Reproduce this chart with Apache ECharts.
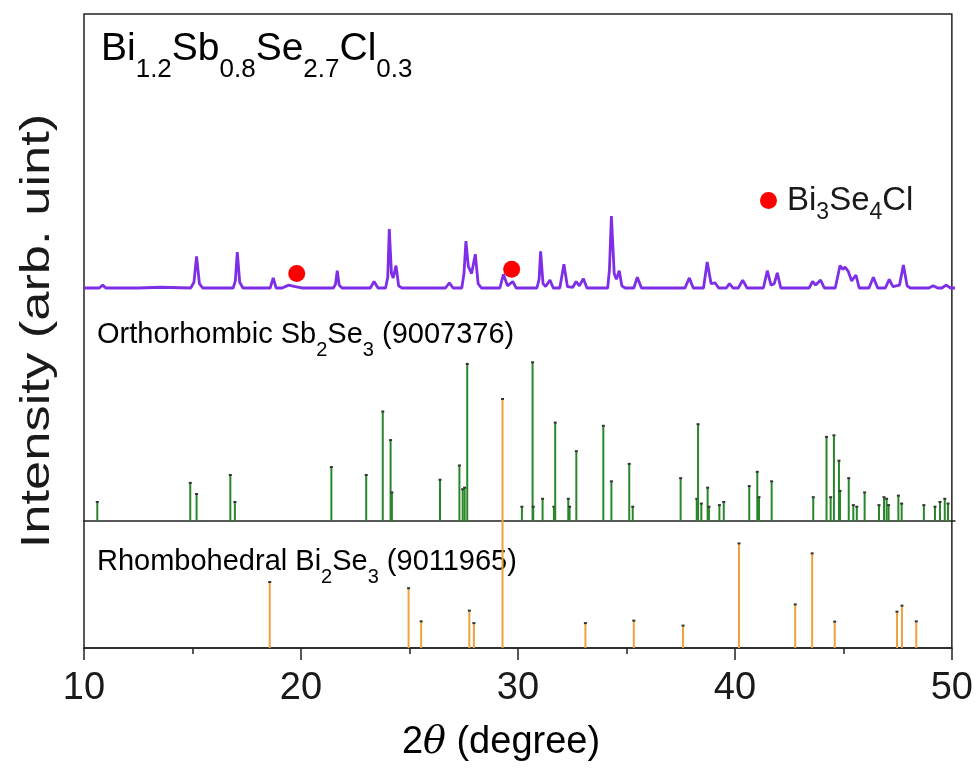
<!DOCTYPE html>
<html>
<head>
<meta charset="utf-8">
<script src="https://cdn.jsdelivr.net/npm/echarts@6/dist/echarts.min.js"></script>
<style>
  html, body { margin: 0; padding: 0; background: #fff; }
  #chart { width: 976px; height: 769px; }
</style>
</head>
<body>
<div id="chart"></div>
<script>
// measured XRD pattern of Bi1.2Sb0.8Se2.7Cl0.3, [2theta, relative intensity]
const xrdPattern = [
  [10.0, 0], [10.7, 0], [10.86, 4], [11.0, 0], [12.5, 0], [13.5, 1], [14.9, 0],
  [15.05, 8], [15.17, 44], [15.3, 6], [15.45, 0], [16.85, 0], [16.95, 10], [17.04, 50],
  [17.15, 8], [17.3, 0], [18.55, 0], [18.69, 14], [18.82, 0], [19.1, 0], [19.4, 4],
  [19.7, 2], [20.0, 0], [21.45, 0], [21.55, 5], [21.63, 24], [21.72, 4], [21.85, 0],
  [23.15, 0], [23.32, 9], [23.5, 0], [23.85, 0], [23.95, 15], [24.02, 82], [24.12, 20],
  [24.2, 14], [24.33, 31], [24.45, 3], [24.6, 0], [26.6, 0], [26.78, 7], [26.95, 0],
  [27.35, 0], [27.45, 20], [27.54, 65], [27.65, 30], [27.8, 20], [27.97, 47], [28.1, 6],
  [28.25, 0], [29.1, 0], [29.26, 19], [29.45, 3], [29.69, 9], [29.85, 0], [30.8, 0],
  [30.9, 12], [30.97, 51], [31.08, 6], [31.2, 2], [31.4, 11], [31.55, 0], [31.85, 0],
  [32.04, 33], [32.2, 2], [32.45, 1], [32.6, 9], [32.75, 3], [32.93, 13], [33.1, 0],
  [34.05, 0], [34.13, 25], [34.22, 100], [34.35, 20], [34.45, 12], [34.58, 24], [34.7, 3],
  [34.85, 0], [35.25, 0], [35.41, 15], [35.6, 0], [37.6, 0], [37.8, 14], [37.98, 0],
  [38.45, 0], [38.62, 36], [38.8, 6], [38.98, 7], [39.15, 0], [39.5, 0], [39.64, 6],
  [39.8, 0], [40.05, 0], [40.25, 11], [40.45, 0], [41.2, 0], [41.38, 24], [41.55, 4],
  [41.7, 6], [41.84, 21], [42.0, 0], [43.3, 0], [43.46, 9], [43.6, 4], [43.83, 11],
  [44.0, 0], [44.5, 0], [44.72, 31], [44.85, 26], [44.95, 29], [45.1, 23], [45.25, 10],
  [45.45, 18], [45.6, 0], [46.05, 0], [46.25, 15], [46.45, 0], [46.8, 0], [46.98, 12],
  [47.15, 2], [47.45, 4], [47.63, 32], [47.8, 3], [47.95, 0], [48.8, 0], [49.0, 3],
  [49.2, 0], [49.4, 0], [49.59, 4], [49.8, 0], [50.0, 0]
];

// Bi3Se4Cl impurity peaks marked with red dots
const bi3se4clMarks = [[19.77, 20], [29.64, 26]];

// reference card: orthorhombic Sb2Se3 (9007376)
const sb2se3Peaks = [
  [10.61, 12], [14.88, 24], [15.17, 17], [16.72, 29], [16.93, 12], [21.36, 34], [22.96, 29],
  [23.72, 69], [24.08, 51], [24.14, 18], [26.35, 26], [27.24, 35], [27.39, 20], [27.48, 21],
  [27.6, 99], [30.11, 9], [30.6, 100], [30.63, 9], [31.06, 14], [31.58, 9], [31.64, 62],
  [32.24, 14], [32.3, 9], [32.61, 44], [33.85, 60], [34.22, 25], [35.04, 36], [35.2, 9],
  [37.4, 27], [38.14, 14], [38.2, 61], [38.35, 11], [38.64, 21], [38.7, 9], [39.18, 10],
  [39.38, 12], [40.55, 22], [40.92, 31], [41.0, 15], [41.58, 25], [43.49, 15], [44.1, 53],
  [44.29, 15], [44.44, 54], [44.67, 38], [44.72, 19], [45.12, 27], [45.33, 10], [45.49, 9],
  [45.85, 18], [46.51, 10], [46.74, 15], [46.86, 14], [46.95, 10], [47.4, 16], [47.55, 11],
  [48.57, 10], [49.08, 9], [49.31, 12], [49.53, 14], [49.68, 11]
];

// reference card: rhombohedral Bi2Se3 (9011965)
const bi2se3Peaks = [
  [18.56, 26.5], [24.96, 24], [25.54, 10.7], [27.76, 15], [27.97, 10], [29.29, 100],
  [33.11, 10], [35.34, 11], [37.61, 9], [40.19, 42], [42.78, 17.5], [43.56, 38],
  [44.6, 10.6], [47.47, 14.6], [47.7, 17], [48.36, 10.7]
];

const xTicks = [10, 20, 30, 40, 50];

const FONT = 'Arial, "Liberation Sans", sans-serif';
const INK = '#1a1a1a';

// rich text styles for chemical formulas with subscripts
function formulaRich(main, sub, drop) {
  return {
    m: { fontSize: main, lineHeight: main, verticalAlign: 'top', fontFamily: FONT, color: INK },
    s: { fontSize: sub, lineHeight: sub, verticalAlign: 'top', padding: [drop, 0, 0, 0], fontFamily: FONT, color: INK }
  };
}

// vertical stick for a reference card peak
function stickRenderer(color) {
  return function (params, api) {
    const base = api.coord([api.value(0), 0]);
    const top = api.coord([api.value(0), api.value(1)]);
    return {
      type: 'group',
      children: [
        { type: 'line', shape: { x1: base[0], y1: base[1], x2: top[0], y2: top[1] }, style: { stroke: color, lineWidth: 2 } },
        { type: 'rect', shape: { x: top[0] - 1.5, y: top[1] - 1, width: 3, height: 2 }, style: { fill: '#333' } }
      ]
    };
  };
}

const chart = echarts.init(document.getElementById('chart'));

const hiddenY = { type: 'value', show: false, splitLine: { show: false } };
const plainX = { type: 'value', min: xTicks[0], max: xTicks[xTicks.length - 1], interval: 10, splitLine: { show: false } };

const option = {
  backgroundColor: '#fff',
  animation: false,
  grid: [
    // outer frame, Bi2Se3 panel and the 2theta axis
    { left: 84, right: 21, top: 14, bottom: 121, show: true, borderColor: '#222', borderWidth: 1.5 },
    // Sb2Se3 panel, baseline at y=521
    { left: 84, right: 21, top: 14, bottom: 248 },
    // measured pattern
    { left: 84, right: 21, top: 14, bottom: 471 }
  ],
  xAxis: [
    Object.assign({}, plainX, {
      gridIndex: 0,
      axisLine: { show: true, lineStyle: { color: '#222', width: 1.5 } },
      axisTick: { show: true, inside: false, length: 12, lineStyle: { color: '#222', width: 1.5 } },
      minorTick: { show: true, splitNumber: 2, length: 6, lineStyle: { color: '#222', width: 1.5 } },
      axisLabel: { fontSize: 38, fontFamily: FONT, color: INK, margin: 22 }
    }),
    Object.assign({}, plainX, {
      gridIndex: 1,
      axisLine: { show: true, lineStyle: { color: '#222', width: 1.5 } },
      axisTick: { show: false },
      axisLabel: { show: false }
    }),
    Object.assign({}, plainX, { gridIndex: 2, show: false })
  ],
  yAxis: [
    Object.assign({}, hiddenY, { gridIndex: 0, min: 0, max: 254.6 }),
    Object.assign({}, hiddenY, { gridIndex: 1, min: 0, max: 319.5 }),
    Object.assign({}, hiddenY, { gridIndex: 2, min: -13.9, max: 380.5 })
  ],
  legend: {
    data: ['Bi3Se4Cl'],
    left: 755,
    top: 179,
    icon: 'circle',
    itemWidth: 17,
    itemHeight: 17,
    formatter: function () { return '{m|Bi}{s|3}{m|Se}{s|4}{m|Cl}'; },
    textStyle: { padding: [0, 0, 0, 5], rich: formulaRich(33, 23, 17) }
  },
  graphic: [
    {
      type: 'text', left: 101, top: 30,
      style: { text: '{m|Bi}{s|1.2}{m|Sb}{s|0.8}{m|Se}{s|2.7}{m|Cl}{s|0.3}', rich: formulaRich(39, 26, 27) }
    },
    {
      type: 'text', left: 97, top: 320,
      style: { text: '{m|Orthorhombic Sb}{s|2}{m|Se}{s|3}{m| (9007376)}', rich: formulaRich(29, 20, 20) }
    },
    {
      type: 'text', left: 97, top: 547,
      style: { text: '{m|Rhombohedral Bi}{s|2}{m|Se}{s|3}{m| (9011965)}', rich: formulaRich(29, 20, 20) }
    },
    // y axis title, stretched along its length like the original
    {
      type: 'text', x: 38, y: 331, rotation: Math.PI / 2, scaleX: 1.28,
      style: { text: 'Intensity (arb. uint)', fontSize: 41, fontFamily: FONT, fill: INK, align: 'center', verticalAlign: 'middle' }
    },
    // x axis title
    {
      type: 'text', x: 501, y: 743,
      style: {
        text: '{n|2}{i|θ}{n| (degree)}', align: 'center', verticalAlign: 'middle',
        rich: {
          n: { fontSize: 38, fontFamily: FONT, color: INK },
          i: { fontSize: 38, fontFamily: '"DejaVu Serif", "Liberation Serif", serif', fontStyle: 'italic', color: INK }
        }
      }
    }
  ],
  series: [
    {
      name: 'Rhombohedral Bi2Se3',
      type: 'custom',
      xAxisIndex: 0, yAxisIndex: 0,
      renderItem: stickRenderer('#eea23f'),
      data: bi2se3Peaks,
      z: 3
    },
    {
      name: 'Orthorhombic Sb2Se3',
      type: 'custom',
      xAxisIndex: 1, yAxisIndex: 1,
      renderItem: stickRenderer('#2a862a'),
      data: sb2se3Peaks,
      z: 2
    },
    {
      name: 'Bi1.2Sb0.8Se2.7Cl0.3',
      type: 'line',
      xAxisIndex: 2, yAxisIndex: 2,
      showSymbol: false,
      clip: false,
      lineStyle: { color: '#7d2ee6', width: 2.8 },
      data: xrdPattern,
      z: 4
    },
    {
      name: 'Bi3Se4Cl',
      type: 'scatter',
      xAxisIndex: 2, yAxisIndex: 2,
      symbol: 'circle',
      symbolSize: 17,
      itemStyle: { color: '#ff0000', opacity: 1 },
      data: bi3se4clMarks,
      z: 5
    }
  ]
};

chart.setOption(option);
</script>
</body>
</html>
